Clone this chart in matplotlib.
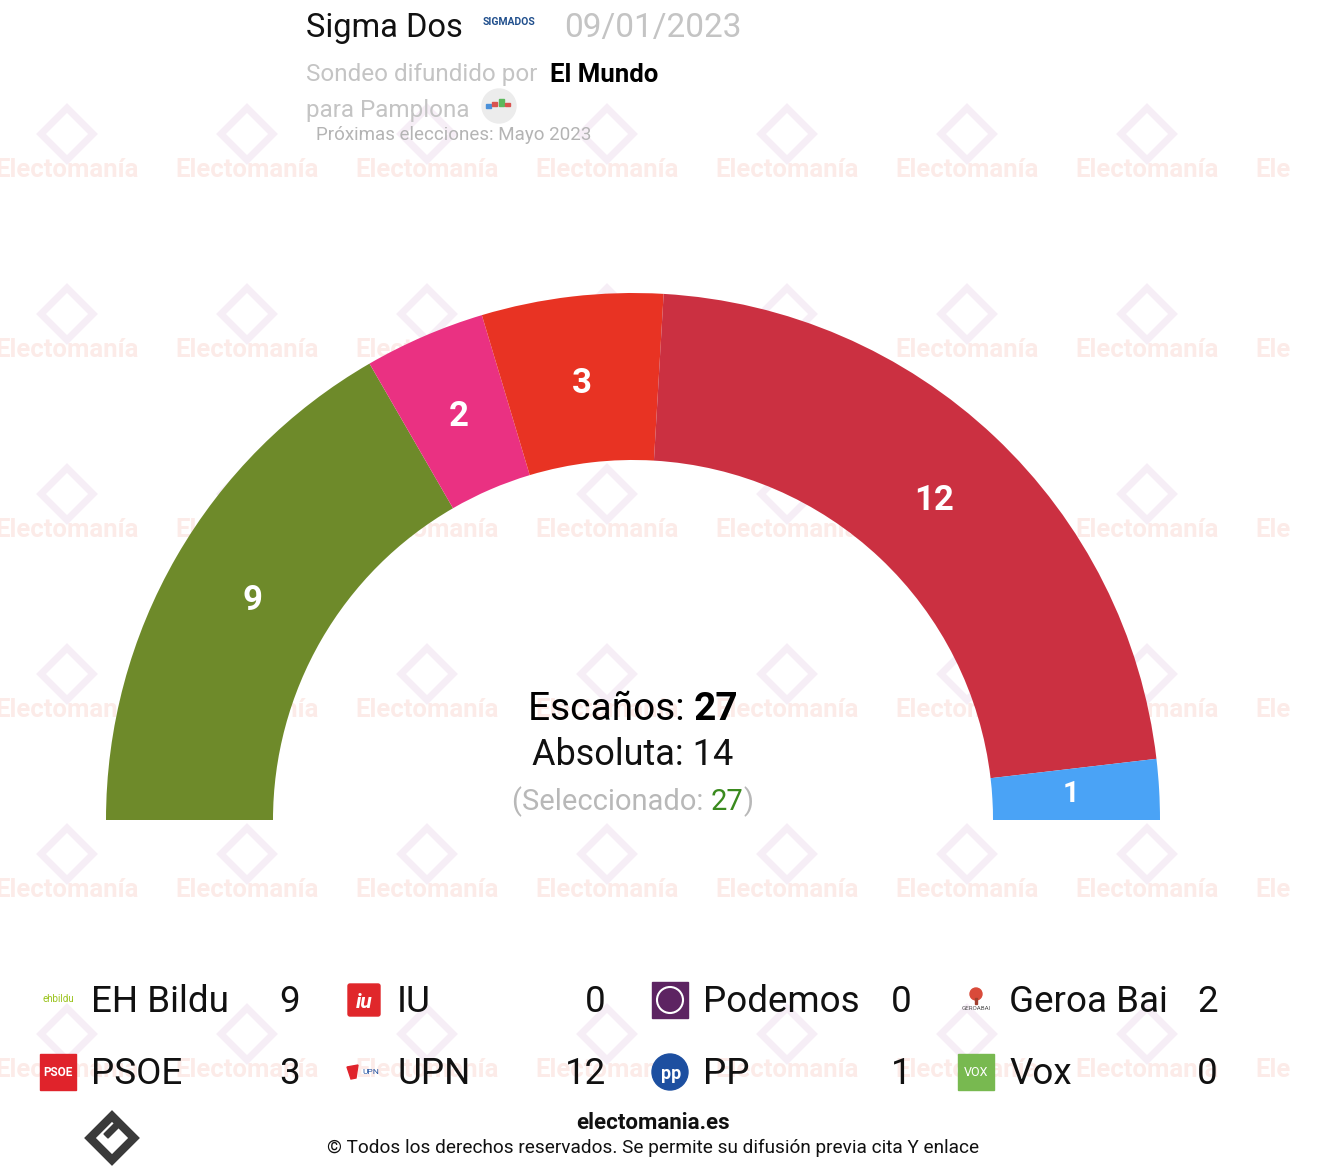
import math

import matplotlib
matplotlib.use("Agg")
import matplotlib.pyplot as plt
from matplotlib.patches import Wedge, Rectangle, Circle, FancyBboxPatch, Polygon
from matplotlib.transforms import Bbox, TransformedBbox

plt.rcParams["font.family"] = ["Roboto", "DejaVu Sans"]

# Arc data (left to right)
arc_parties = ["EH Bildu", "Geroa Bai", "PSOE", "UPN", "PP"]
arc_seats = [9, 2, 3, 12, 1]
arc_colors = ["#6e8a2a", "#ea3182", "#e83323", "#cb3041", "#4aa3f6"]

# Legend data (row-major, 4 columns)
legend_parties = ["EH Bildu", "IU", "Podemos", "Geroa Bai", "PSOE", "UPN", "PP", "Vox"]
legend_seats = [9, 0, 0, 2, 3, 12, 1, 0]

total_seats = 27
majority = 14
selected = 27

W, H = 1326, 1174
fig = plt.figure(figsize=(W / 100, H / 100), dpi=100)
ax = fig.add_axes([0, 0, 1, 1])
ax.set_xlim(0, W)
ax.set_ylim(0, H)
ax.set_aspect("equal")
ax.axis("off")


def Y(py):
    return H - py


def text_row(parts, x, y):
    """Draw a sequence of (text, kwargs) side by side, centred on x."""
    fig.canvas.draw()
    renderer = fig.canvas.get_renderer()
    inv = ax.transData.inverted()
    items = []
    total = 0
    for s, kw in parts:
        t = ax.text(0, y, s, ha="left", va="center", **kw)
        bb = t.get_window_extent(renderer=renderer)
        w = inv.transform((bb.x1, 0))[0] - inv.transform((bb.x0, 0))[0]
        items.append((t, w))
        total += w
    x0 = x - total / 2
    for t, w in items:
        t.set_x(x0)
        x0 += w


# watermark tiles (clipped before the right edge, as in the source)
clip = TransformedBbox(Bbox([[0, 0], [1290, H]]), ax.transData)
for row in range(6):
    for col in range(9):
        x = -113 + 180 * col
        y = 170 + 180 * row
        if y > 1100:
            continue
        t = ax.text(x, Y(y), "Electomanía", fontsize=18.5, fontweight="bold",
                    color="#fcebe8", ha="center", va="center", zorder=0)
        t.set_clip_box(clip)
        t.set_clip_on(True)
        if x < 1290:
            d = Polygon([(x, Y(y - 62)), (x + 26, Y(y - 36)), (x, Y(y - 10)), (x - 26, Y(y - 36))],
                        closed=True, fill=False, ec="#f6eef6", lw=5, zorder=0)
            ax.add_patch(d)

# header
ax.text(306, Y(28), "Sigma Dos", fontsize=23.5, color="#111111", va="center", ha="left")
ax.text(483, Y(22), "SIGMADOS", fontsize=7.5, fontweight="bold", color="#1f4e8c",
        va="center", ha="left")
ax.text(564, Y(28), "09/01/2023", fontsize=24, color="#c4c4c4", va="center", ha="left")
ax.text(306, Y(74), "Sondeo difundido por", fontsize=17.5, color="#c4c4c4", va="center", ha="left")
ax.text(550, Y(75), "El Mundo", fontsize=18.5, fontweight="bold", color="#000000",
        va="center", ha="left")
ax.text(306, Y(111), "para Pamplona", fontsize=17.5, color="#c4c4c4", va="center", ha="left")
ax.add_patch(Circle((499, Y(106)), 17, color="#ececec", zorder=2))
for bx, by, bh, bc in [(486, 104, -4, "#4a90d9"), (492, 106, 4, "#d9534f"),
                       (499, 99, -7, "#5cb85c"), (505, 106, 3, "#d9534f")]:
    ax.add_patch(Rectangle((bx, Y(by)), 5, bh, color=bc, zorder=3))
ax.text(316, Y(135), "Próximas elecciones: Mayo 2023", fontsize=13.5, color="#b4b4b4",
        va="center", ha="left")

# hemicycle
cx, cy = 633, Y(820)
r_out, r_in = 527, 360
start = 180.0
for name, seats, color in zip(arc_parties, arc_seats, arc_colors):
    span = 180.0 * seats / total_seats
    end = start - span
    ax.add_patch(Wedge((cx, cy), r_out, end, start, width=r_out - r_in,
                       color=color, ec="none", zorder=2))
    a = math.radians((start + end) / 2)
    rm = 439
    ax.text(cx + rm * math.cos(a), cy + rm * math.sin(a), str(seats),
            fontsize=25 if seats > 1 else 21, fontweight="bold", color="white",
            ha="center", va="center", zorder=3)
    start = end

# center texts
text_row([("Escaños: ", dict(fontsize=28, color="#000000")),
          (str(total_seats), dict(fontsize=28, fontweight="bold", color="#000000"))],
         cx, Y(709))
ax.text(cx, Y(755), f"Absoluta: {majority}", fontsize=26, color="#111111",
        ha="center", va="center")
text_row([("(Seleccionado: ", dict(fontsize=21, color="#b8b8b8")),
          (str(selected), dict(fontsize=21, color="#3a8a1e")),
          (")", dict(fontsize=21, color="#b8b8b8"))],
         cx, Y(802))


# legend icons
def icon(name, x, y):
    if name == "EH Bildu":
        ax.text(x, y + 1, "ehbildu", fontsize=7, color="#9ac31c", ha="center", va="center")
    elif name == "IU":
        ax.add_patch(FancyBboxPatch((x - 14, y - 14), 28, 28, boxstyle="round,pad=2",
                                    color="#e0272b", zorder=3))
        ax.text(x, y - 2, "iu", fontsize=15, fontweight="bold", style="italic",
                color="white", ha="center", va="center", zorder=4)
    elif name == "Podemos":
        ax.add_patch(Rectangle((x - 18, y - 18), 36, 36, color="#5d2462", zorder=3))
        ax.add_patch(Circle((x, y), 13, fill=False, ec="white", lw=1.5, zorder=4))
    elif name == "Geroa Bai":
        ax.add_patch(Circle((x, y + 6), 6, color="#d94a3a", zorder=3))
        ax.add_patch(Rectangle((x - 1, y - 4), 2, 6, color="#a0402f", zorder=3))
        ax.text(x, y - 9, "GEROABAI", fontsize=4.5, color="#555555", ha="center", va="center")
    elif name == "PSOE":
        ax.add_patch(Rectangle((x - 18, y - 18), 36, 36, color="#e0232b", zorder=3))
        ax.text(x, y - 1, "PSOE", fontsize=8.5, fontweight="bold", color="white",
                ha="center", va="center", zorder=4)
    elif name == "UPN":
        ax.add_patch(Polygon([(x - 17, y + 5), (x - 6, y + 7), (x - 8, y - 6), (x - 13, y - 7)],
                             color="#e0232b", zorder=3))
        ax.text(x + 7, y, "UPN", fontsize=6, color="#1d4fa0", ha="center", va="center")
    elif name == "PP":
        ax.add_patch(Circle((x, y), 18, color="#1d4fa0", zorder=3))
        ax.text(x + 1, y - 2, "pp", fontsize=13, fontweight="bold", color="white",
                ha="center", va="center", zorder=4)
    elif name == "Vox":
        ax.add_patch(Rectangle((x - 18, y - 18), 36, 36, color="#78b950", zorder=3))
        ax.text(x, y, "VOX", fontsize=9, color="white", ha="center", va="center", zorder=4)


col_icon = [58, 364, 670, 976]
col_name = [91, 397, 703, 1009]
col_val = [300, 606, 912, 1218]
row_y = [1000, 1072]
for i, (name, seats) in enumerate(zip(legend_parties, legend_seats)):
    r, c = divmod(i, 4)
    y = Y(row_y[r])
    icon(name, col_icon[c], y)
    ax.text(col_name[c], y - 2.5, name, fontsize=26.5, color="#111111", ha="left", va="center")
    ax.text(col_val[c], y - 2.5, str(seats), fontsize=26.5, color="#111111", ha="right", va="center")

# footer
ax.text(653, Y(1123), "electomania.es", fontsize=16, fontweight="bold", color="#111111",
        ha="center", va="center")
ax.text(653, Y(1148), "© Todos los derechos reservados. Se permite su difusión previa cita Y enlace",
        fontsize=13.7, color="#111111", ha="center", va="center")
ax.add_patch(Polygon([(112, Y(1116)), (134, Y(1138)), (112, Y(1160)), (90, Y(1138))],
                     closed=True, fill=False, ec="#3a3a3a", lw=6, zorder=3))
ax.add_patch(Polygon([(104, Y(1134)), (116, Y(1122)), (120, Y(1126)), (108, Y(1138))],
                     closed=True, color="#3a3a3a", zorder=3))

fig.savefig("out.png", dpi=100)
